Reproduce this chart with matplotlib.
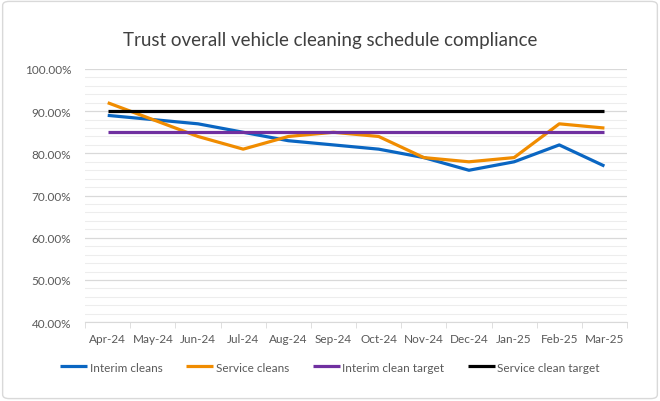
import matplotlib
matplotlib.use("Agg")
import matplotlib.pyplot as plt
from matplotlib.patches import FancyBboxPatch
from matplotlib.ticker import MultipleLocator, FuncFormatter

months = ["Apr-24", "May-24", "Jun-24", "Jul-24", "Aug-24", "Sep-24",
          "Oct-24", "Nov-24", "Dec-24", "Jan-25", "Feb-25", "Mar-25"]
interim_cleans = [89, 88, 87, 85, 83, 82, 81, 79, 76, 78, 82, 77]
service_cleans = [92, 88, 84, 81, 84, 85, 84, 79, 78, 79, 87, 86]
interim_target = [85] * 12
service_target = [90] * 12

plt.rcParams['font.family'] = ['Lato', 'DejaVu Sans']

fig = plt.figure(figsize=(6.6, 4.02), dpi=100)
fig.patches.append(FancyBboxPatch((0.004, 0.006), 0.992, 0.988,
                                  boxstyle="round,pad=0,rounding_size=0.01",
                                  transform=fig.transFigure, fill=False,
                                  edgecolor="#D9D9D9", linewidth=1))
ax = fig.add_axes([0.129, 0.196, 0.821, 0.630])

x = list(range(len(months)))
ax.plot(x, interim_cleans, color="#0A66C2", lw=2.3, label="Interim cleans", solid_capstyle="butt")
ax.plot(x, service_cleans, color="#F08C00", lw=2.3, label="Service cleans", solid_capstyle="butt")
ax.plot(x, interim_target, color="#7030A0", lw=2.3, label="Interim clean target", solid_capstyle="butt")
ax.plot(x, service_target, color="#000000", lw=2.3, label="Service clean target", solid_capstyle="butt")

ax.set_xlim(-0.5, len(months) - 0.5)
ax.set_ylim(40, 100)
ax.yaxis.set_major_locator(MultipleLocator(10))
ax.yaxis.set_minor_locator(MultipleLocator(2))
ax.yaxis.set_major_formatter(FuncFormatter(lambda v, p: f"{v:.2f}%"))
ax.grid(axis='y', which='major', color="#D9D9D9", lw=0.9)
ax.grid(axis='y', which='minor', color="#EDEDED", lw=0.8)
ax.set_axisbelow(True)

ax.set_xticks(x)
ax.set_xticklabels(months)
ax.set_xticks([i - 0.5 for i in range(len(months) + 1)], minor=True)
ax.tick_params(axis='x', which='major', length=0, pad=8, labelsize=8.5, colors="#595959")
ax.tick_params(axis='x', which='minor', length=4, color="#D9D9D9")
ax.tick_params(axis='y', which='both', length=0, pad=10, labelsize=8.5, colors="#595959")

for s in ['top', 'right', 'left']:
    ax.spines[s].set_visible(False)
ax.spines['bottom'].set_color("#D9D9D9")

fig.text(0.5, 0.9, "Trust overall vehicle cleaning schedule compliance",
         ha='center', va='center', fontsize=13.5, color="#404040")

leg = fig.legend(loc='center', bbox_to_anchor=(0.5, 1 - 368 / 402), ncol=4,
                 frameon=False, fontsize=8.5, handlelength=2.3, handletextpad=0.2,
                 columnspacing=2.0)
for t in leg.get_texts():
    t.set_color("#595959")

fig.savefig("out.png", dpi=100)
